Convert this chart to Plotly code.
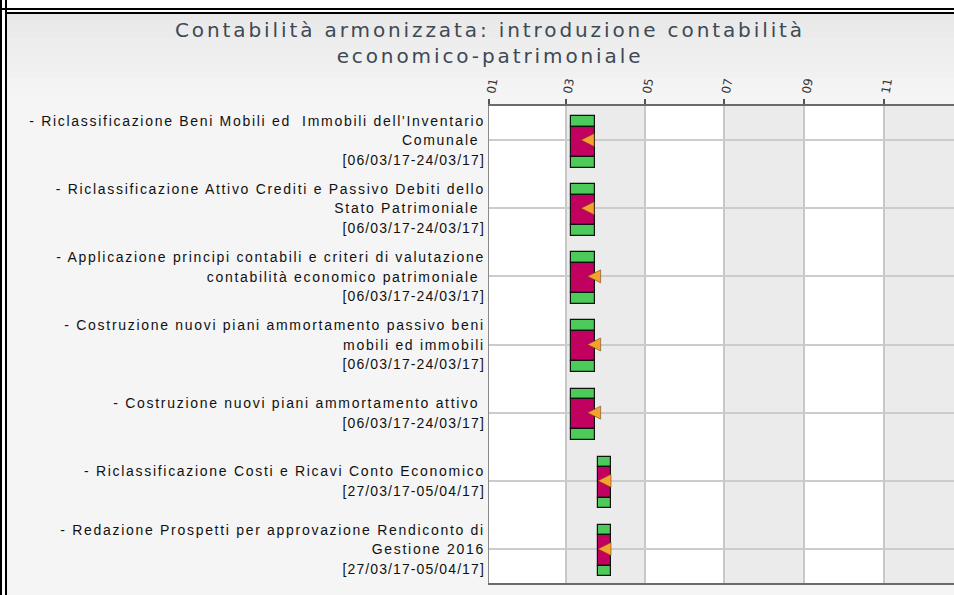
import plotly.graph_objects as go
from datetime import datetime, timedelta

# ---------------- data ----------------
task_lines = [
    ["- Riclassificazione Beni Mobili ed\u00a0 Immobili dell'Inventario", "Comunale\u00a0"],
    ["- Riclassificazione Attivo Crediti e Passivo Debiti dello", "Stato Patrimoniale\u00a0"],
    ["- Applicazione principi contabili e criteri di valutazione", "contabilità economico patrimoniale\u00a0"],
    ["- Costruzione nuovi piani ammortamento passivo beni", "mobili ed immobili"],
    ["- Costruzione nuovi piani ammortamento attivo\u00a0"],
    ["- Riclassificazione Costi e Ricavi Conto Economico"],
    ["- Redazione Prospetti per approvazione Rendiconto di", "Gestione 2016"],
]
start_dates = ["2017-03-06", "2017-03-06", "2017-03-06", "2017-03-06", "2017-03-06",
               "2017-03-27", "2017-03-27"]
end_dates = ["2017-03-24", "2017-03-24", "2017-03-24", "2017-03-24", "2017-03-24",
             "2017-04-05", "2017-04-05"]
progress_dates = ["2017-03-13", "2017-03-13", "2017-03-18", "2017-03-18", "2017-03-18",
                  "2017-03-26", "2017-03-26"]
tick_dates = ["2017-01-01", "2017-03-01", "2017-05-01", "2017-07-01", "2017-09-01", "2017-11-01"]
tick_labels = ["01", "03", "05", "07", "09", "11"]
title_lines = ["Contabilità armonizzata: introduzione contabilità", "economico-patrimoniale"]

# ---------------- derived ----------------
def d(s):
    return datetime.strptime(s, "%Y-%m-%d")

def styled(s, sp, size=None):
    fs = f"font-size:{size}px;" if size else ""
    return f"<span style='{fs}letter-spacing:{sp}px'>{s}</span>"

n = len(task_lines)
rows = list(range(n))
date_labels = [f"[{d(a):%d/%m/%y}-{d(b):%d/%m/%y}]" for a, b in zip(start_dates, end_dates)]
tick_text = ["<br>".join([styled(l, 1.7, 14) for l in lines] + [styled(dl, 1.1, 14)])
             for lines, dl in zip(task_lines, date_labels)]
# bars cover the start day itself (inclusive)
bar_base = [(d(a) - timedelta(days=1)).strftime("%Y-%m-%d") for a in start_dates]
bar_len = [(d(b) - (d(a) - timedelta(days=1))).total_seconds() * 1000
           for a, b in zip(start_dates, end_dates)]

W, H = 954, 595
ML, MR, MT, MB = 489, 0, 106, 12
PW, PH = W - ML - MR, H - MT - MB

def px(x):
    return (x - ML) / PW

def py(y):
    return 1 - (y - MT) / PH

GREEN = "#4ccb5a"
MAGENTA = "#c2005f"
ORANGE = "#f7a030"

fig = go.Figure()
for off, wid, col in [(-0.353, 0.154, GREEN), (-0.199, 0.446, MAGENTA), (0.247, 0.157, GREEN)]:
    fig.add_trace(go.Bar(
        y=rows, x=bar_len, base=bar_base, orientation="h",
        width=wid, offset=off,
        marker=dict(color=col, line=dict(color="#111111", width=1.2)),
        showlegend=False, hoverinfo="skip",
    ))
fig.add_trace(go.Scatter(
    x=progress_dates, y=rows, mode="markers",
    marker=dict(symbol="arrow-left", size=13, color=ORANGE,
                line=dict(color="#6b4a1a", width=0.6)),
    showlegend=False, hoverinfo="skip",
))

shapes = []
# alternating month bands (Mar-Apr, Jul-Aug, Nov-Dec)
band_ends = tick_dates[2:] + ["2018-01-01"]
for i in range(1, len(tick_dates), 2):
    shapes.append(dict(type="rect", xref="x", yref="paper", x0=tick_dates[i],
                       x1=band_ends[i - 1], y0=0, y1=1, fillcolor="#ebebeb",
                       line=dict(width=0), layer="below"))
# soft gradient at the top of the chart panel
steps = 10
for k in range(steps):
    g = 233 + round(k * (245 - 233) / steps)
    shapes.append(dict(type="rect", xref="paper", yref="paper", x0=px(7), x1=px(954),
                       y0=py(14 + k * 8), y1=py(14 + (k + 1) * 8),
                       fillcolor=f"rgb({g},{g},{g})", line=dict(width=0), layer="below"))
# outer frame (page decoration)
shapes += [
    dict(type="rect", xref="paper", yref="paper", x0=px(0), x1=px(954), y0=py(0), y1=py(13),
         fillcolor="white", line=dict(width=0), layer="below"),
    dict(type="rect", xref="paper", yref="paper", x0=px(0), x1=px(7), y0=py(0), y1=py(595),
         fillcolor="white", line=dict(width=0), layer="below"),
    dict(type="line", xref="paper", yref="paper", x0=px(1), x1=px(1), y0=py(0), y1=py(595),
         line=dict(color="black", width=2)),
    dict(type="line", xref="paper", yref="paper", x0=px(6), x1=px(6), y0=py(0), y1=py(595),
         line=dict(color="black", width=2)),
    dict(type="line", xref="paper", yref="paper", x0=px(0), x1=px(954), y0=py(9), y1=py(9),
         line=dict(color="black", width=2)),
    dict(type="line", xref="paper", yref="paper", x0=px(6), x1=px(954), y0=py(13), y1=py(13),
         line=dict(color="black", width=2)),
]

fig.update_layout(
    width=W, height=H,
    margin=dict(l=ML, r=MR, t=MT, b=MB, autoexpand=False),
    paper_bgcolor="#f5f5f5", plot_bgcolor="white",
    barmode="overlay", bargap=0,
    shapes=shapes,
    title=dict(
        text="<br>".join(styled(t, 2.9) for t in title_lines),
        x=490 / W, xanchor="center", xref="container",
        y=1 - 37 / H, yanchor="top", yref="container",
        font=dict(family="DejaVu Sans", size=20, color="#3d4954"),
    ),
    xaxis=dict(
        type="date", side="top", range=["2017-01-01", "2017-12-25 07:00"],
        tickvals=tick_dates, ticktext=tick_labels, tickangle=-80,
        ticks="outside", ticklen=5, tickwidth=1.5, tickcolor="#555555",
        ticklabelstandoff=-5,
        tickfont=dict(family="DejaVu Sans", size=12, color="#333333"),
        showgrid=True, gridcolor="#c8c8c8", gridwidth=2,
        showline=True, linecolor="#6a6a6a", linewidth=2, mirror=True,
        zeroline=False, fixedrange=True,
    ),
    yaxis=dict(
        range=[n - 0.5, -0.5], tickvals=rows, ticktext=tick_text,
        ticks="", ticklabelstandoff=0,
        tickfont=dict(family="Liberation Sans", size=15, color="#111111"),
        showgrid=True, gridcolor="#cccccc", gridwidth=2,
        showline=True, linecolor="#8a8a8a", linewidth=1.2,
        zeroline=False, fixedrange=True,
    ),
)

fig.write_html("out.html", config={"displayModeBar": False},
               post_script="document.body.style.margin='0';")
